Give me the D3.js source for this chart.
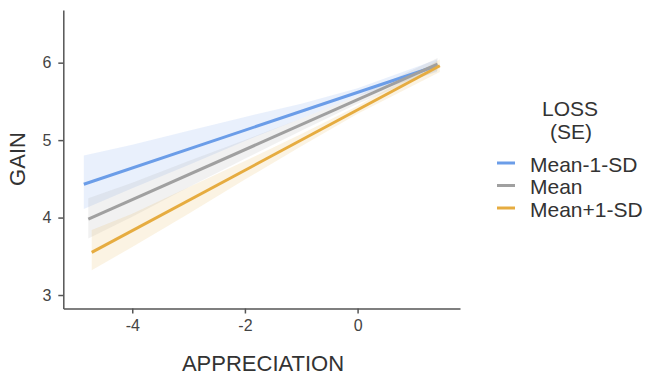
<!DOCTYPE html>
<html>
<head>
<meta charset="utf-8">
<script src="https://cdn.jsdelivr.net/npm/d3@7"></script>
<style>
  body { margin: 0; background: #fff; }
  svg { font-family: "Liberation Sans", Arial, sans-serif; }
</style>
</head>
<body>
<div id="chart"></div>
<script>
// series (levels of LOSS)
var seriesNames = ["Mean-1-SD", "Mean", "Mean+1-SD"];
var seriesColors = ["#6b9de8", "#a0a0a0", "#e6ac40"];

// fitted lines: start / end of each simple slope
var xStart = [-4.86, -4.78, -4.72];
var xEnd = [1.41, 1.42, 1.46];
var yStart = [4.43, 3.98, 3.55];
var yEnd = [5.96, 5.98, 5.96];

// SE ribbons, read at start, -4, -3, -2, -1, 0, end
var bandInner = [-4, -3, -2, -1, 0];
var bandHigh = [
    [4.80, 4.94, 5.12, 5.30, 5.47, 5.67, 6.04],
    [4.25, 4.45, 4.73, 5.00, 5.28, 5.57, 6.06],
    [3.84, 4.05, 4.39, 4.73, 5.08, 5.44, 6.04]
];
var bandLow = [
    [4.11, 4.38, 4.68, 4.99, 5.28, 5.57, 5.88],
    [3.73, 4.01, 4.39, 4.76, 5.12, 5.47, 5.90],
    [3.32, 3.62, 4.05, 4.49, 4.92, 5.34, 5.88]
];

var xTicks = [-4, -2, 0];
var yTicks = [3, 4, 5, 6];

var width = 650,
    height = 375;
var margin = {left: 63.3, right: 190, top: 10, bottom: 66.5};

var svg = d3.select("#chart").append("svg")
    .attr("width", width)
    .attr("height", height);

var x = d3.scaleLinear()
    .domain([-5.224, 1.818])
    .range([margin.left, width - margin.right]);
var y = d3.scaleLinear()
    .domain([2.826, 6.68])
    .range([height - margin.bottom, margin.top]);

// ribbons first so lines sit on top
var area = d3.area()
    .x(function(d) { return x(d.x); })
    .y0(function(d) { return y(d.lo); })
    .y1(function(d) { return y(d.hi); });

seriesNames.forEach(function(name, i) {
    var xs = [xStart[i]].concat(bandInner, [xEnd[i]]);
    var pts = xs.map(function(v, j) {
        return {x: v, lo: bandLow[i][j], hi: bandHigh[i][j]};
    });
    svg.append("path")
        .datum(pts)
        .attr("d", area)
        .attr("fill", seriesColors[i])
        .attr("fill-opacity", 0.15);
});

var line = d3.line()
    .x(function(d) { return x(d[0]); })
    .y(function(d) { return y(d[1]); });

seriesNames.forEach(function(name, i) {
    svg.append("path")
        .datum([[xStart[i], yStart[i]], [xEnd[i], yEnd[i]]])
        .attr("d", line)
        .attr("fill", "none")
        .attr("stroke", seriesColors[i])
        .attr("stroke-width", 3);
});

// axes (plain hyphen for negatives, like the original)
var fmt = function(d) { return String(d); };
var xAxis = svg.append("g")
    .attr("transform", "translate(0," + y.range()[0] + ")")
    .call(d3.axisBottom(x).tickValues(xTicks).tickSizeInner(5).tickSizeOuter(0).tickPadding(6)
        .tickFormat(fmt));
var yAxis = svg.append("g")
    .attr("transform", "translate(" + x.range()[0] + ",0)")
    .call(d3.axisLeft(y).tickValues(yTicks).tickSizeInner(5).tickSizeOuter(0).tickPadding(7)
        .tickFormat(fmt));

[xAxis, yAxis].forEach(function(ax) {
    ax.select(".domain").attr("stroke", "#555").attr("stroke-width", 1.5);
    ax.selectAll(".tick line").attr("stroke", "#555").attr("stroke-width", 1.5);
    ax.selectAll(".tick text").attr("fill", "#444").style("font-size", "16px");
});

// axis titles
svg.append("text")
    .attr("x", 263)
    .attr("y", 371)
    .attr("text-anchor", "middle")
    .attr("fill", "#333")
    .style("font-size", "22px")
    .text("APPRECIATION");
svg.append("text")
    .attr("transform", "translate(17.5,159) rotate(-90)")
    .attr("text-anchor", "middle")
    .attr("dominant-baseline", "central")
    .attr("fill", "#333")
    .style("font-size", "22px")
    .text("GAIN");

// legend
var legend = svg.append("g");
legend.append("text")
    .attr("x", 570).attr("y", 116)
    .attr("text-anchor", "middle")
    .attr("fill", "#333")
    .style("font-size", "21px")
    .text("LOSS");
legend.append("text")
    .attr("x", 571).attr("y", 139)
    .attr("text-anchor", "middle")
    .attr("fill", "#333")
    .style("font-size", "21px")
    .text("(SE)");

var items = legend.selectAll("g.item")
    .data(seriesNames)
    .enter().append("g")
        .attr("class", "item")
        .attr("transform", function(d, i) { return "translate(0," + (163 + i * 22.5) + ")"; });
items.append("line")
    .attr("x1", 497).attr("x2", 515)
    .attr("stroke", function(d, i) { return seriesColors[i]; })
    .attr("stroke-width", 3);
items.append("text")
    .attr("x", 530).attr("y", 1)
    .attr("dominant-baseline", "central")
    .attr("fill", "#333")
    .style("font-size", "21px")
    .text(function(d) { return d; });
</script>
</body>
</html>
